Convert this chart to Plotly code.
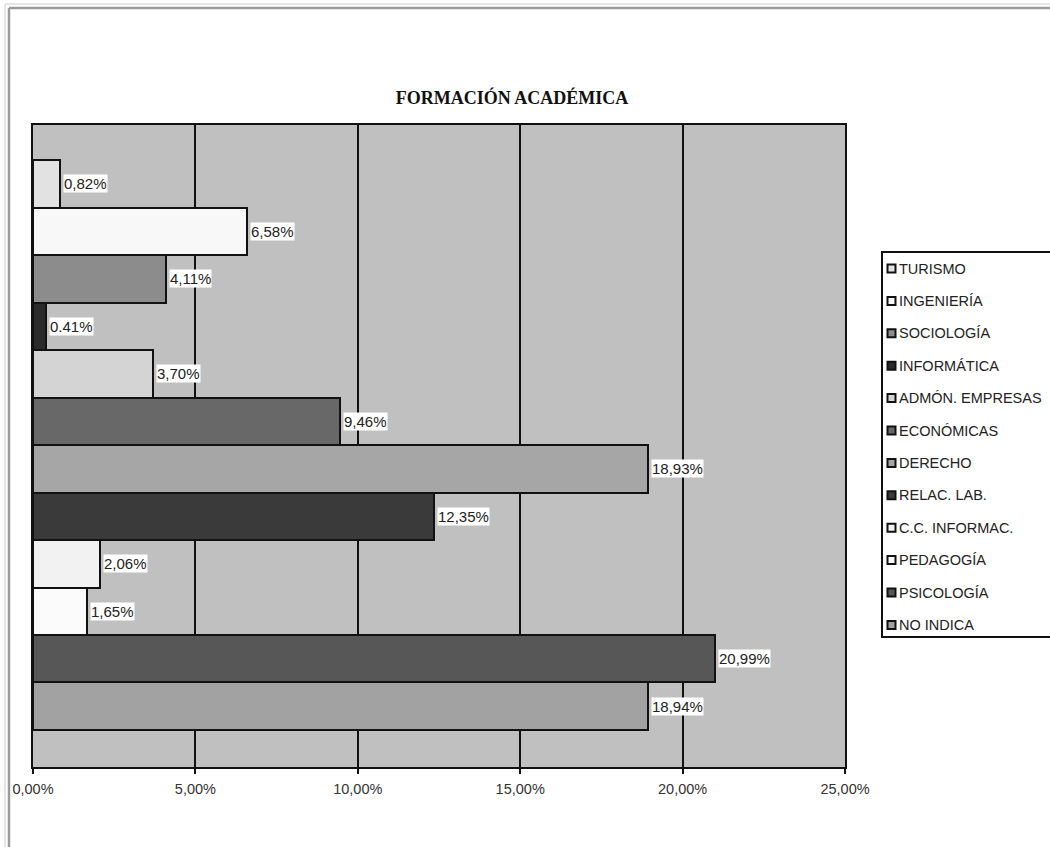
import plotly.graph_objects as go

# Degree programmes, listed top to bottom
carreras = ["TURISMO", "INGENIERÍA", "SOCIOLOGÍA", "INFORMÁTICA", "ADMÓN. EMPRESAS",
            "ECONÓMICAS", "DERECHO", "RELAC. LAB.", "C.C. INFORMAC.", "PEDAGOGÍA",
            "PSICOLOGÍA", "NO INDICA"]
porcentajes = [0.82, 6.58, 4.11, 0.41, 3.70, 9.46, 18.93, 12.35, 2.06, 1.65, 20.99, 18.94]
etiquetas = ["0,82%", "6,58%", "4,11%", "0.41%", "3,70%", "9,46%", "18,93%", "12,35%",
             "2,06%", "1,65%", "20,99%", "18,94%"]
colores = ["#e2e2e2", "#f8f8f8", "#8c8c8c", "#2a2a2a", "#d4d4d4", "#686868",
           "#a6a6a6", "#3a3a3a", "#f2f2f2", "#fbfbfb", "#575757", "#a2a2a2"]
x_ticks = [0, 5, 10, 15, 20, 25]
x_tick_text = ["0,00%", "5,00%", "10,00%", "15,00%", "20,00%", "25,00%"]

W, H = 1050, 847
L, R, T, B = 33, 845, 125, 767   # plot area in pixels
SANS = "Liberation Sans, Arial"


def px_x(p):
    return (p - L) / (R - L)


def px_y(p):
    return (B - p) / (B - T)


fig = go.Figure()
for nombre, valor, color in zip(carreras, porcentajes, colores):
    fig.add_trace(go.Bar(
        x=[valor], y=[nombre], orientation="h", name=nombre,
        marker=dict(color=color, line=dict(color="#111111", width=2)),
        width=1.0, hoverinfo="x+name", showlegend=False,
    ))

# value labels on a white box just past the end of each bar
for nombre, valor, texto in zip(carreras, porcentajes, etiquetas):
    fig.add_annotation(
        x=valor, y=nombre, xref="x", yref="y", text=texto, showarrow=False,
        xanchor="left", yanchor="middle", xshift=3, bgcolor="white", borderpad=0,
        font=dict(family=SANS, size=15, color="#222222"),
    )

shapes = []

# page frame (double grey rule)
frame = [(5, 4, "#cccccc", 1), (9, 8, "#9c9c9c", 2.5)]
for fx, fy, col, w in frame:
    shapes.append(dict(type="line", xref="paper", yref="paper",
                       x0=px_x(fx), x1=px_x(fx), y0=px_y(fy), y1=px_y(H + 5),
                       line=dict(color=col, width=w)))
    shapes.append(dict(type="line", xref="paper", yref="paper",
                       x0=px_x(fx), x1=px_x(W + 5), y0=px_y(fy), y1=px_y(fy),
                       line=dict(color=col, width=w)))

# legend box with a small swatch and a caption per programme
LEG_L, LEG_T, LEG_B = 882, 252, 637
ROW0, ROW_STEP = 268.5, 32.4
shapes.append(dict(type="rect", xref="paper", yref="paper",
                   x0=px_x(LEG_L), x1=px_x(W + 20), y0=px_y(LEG_B), y1=px_y(LEG_T),
                   fillcolor="white", line=dict(color="#111111", width=2)))
for i, (nombre, color) in enumerate(zip(carreras, colores)):
    cy = ROW0 + i * ROW_STEP
    shapes.append(dict(type="rect", xref="paper", yref="paper",
                       x0=px_x(887.5), x1=px_x(895.5), y0=px_y(cy + 4), y1=px_y(cy - 4),
                       fillcolor=color, line=dict(color="#111111", width=2)))
    fig.add_annotation(
        x=px_x(897), y=px_y(cy), xref="paper", yref="paper", text=nombre,
        showarrow=False, xanchor="left", yanchor="middle",
        font=dict(family=SANS, size=14.5, color="#222222"),
    )

fig.update_layout(
    width=W, height=H,
    margin=dict(l=L, r=W - R, t=T, b=H - B, pad=0, autoexpand=False),
    paper_bgcolor="white", plot_bgcolor="#c0c0c0",
    barmode="overlay", bargap=0,
    title=dict(text="<b>FORMACIÓN ACADÉMICA</b>", x=512 / W, xanchor="center",
               y=1 - 98 / H, yanchor="middle", xref="container", yref="container",
               font=dict(family="Liberation Serif, Times New Roman", size=18, color="#111111")),
    xaxis=dict(range=[0, 25], tickvals=x_ticks, ticktext=x_tick_text,
               showgrid=True, gridcolor="#111111", gridwidth=2,
               showline=True, linecolor="#111111", linewidth=2, mirror=True,
               ticks="outside", ticklen=5, tickwidth=2, tickcolor="#111111",
               ticklabelstandoff=3, zeroline=False,
               tickfont=dict(family=SANS, size=14.5, color="#333333")),
    yaxis=dict(type="category", categoryorder="array", categoryarray=carreras,
               range=[12.28, -1.24], showticklabels=False, ticks="",
               showgrid=False, zeroline=False,
               showline=True, linecolor="#111111", linewidth=2, mirror=True),
    shapes=shapes,
    showlegend=False,
)

fig.write_html("out.html")
